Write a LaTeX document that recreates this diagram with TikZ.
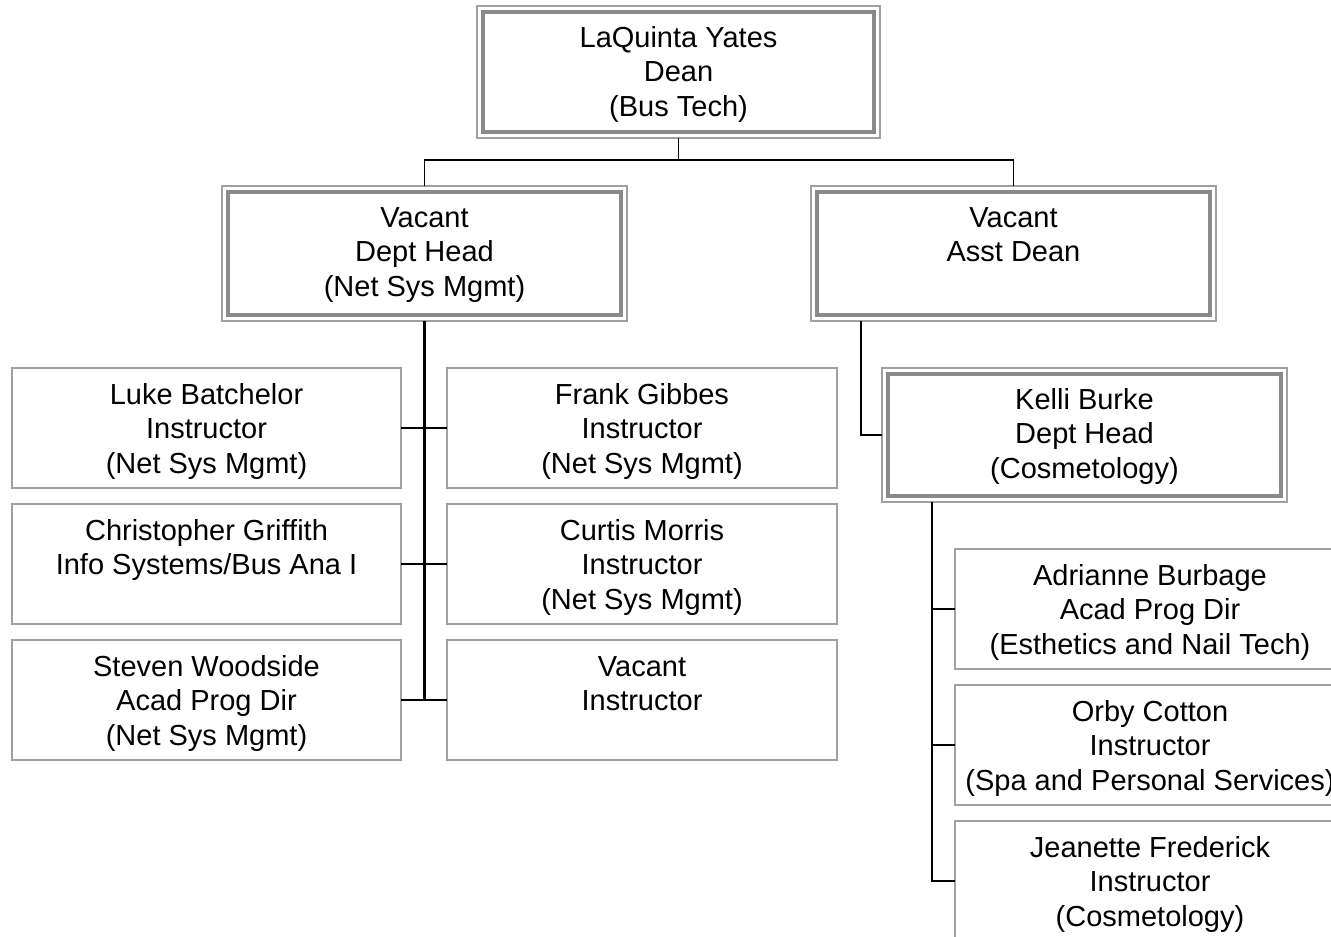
\documentclass[tikz,border=0pt]{standalone}
\usepackage{fontspec}
\setmainfont{Liberation Sans}
\usetikzlibrary{calc}
\definecolor{lineg}{HTML}{A0A0A0}
\definecolor{thickg}{HTML}{8A8A8A}
\tikzset{
  leafbox/.style={draw=lineg, line width=1.3pt, rectangle, inner sep=0pt, outer sep=0pt,
    minimum width=389pt, minimum height=120pt, anchor=north west},
  headbox/.style={draw=lineg, line width=1.6pt, rectangle, inner sep=0pt, outer sep=0pt,
    minimum width=405pt, minimum height=135pt, anchor=north west},
  innerline/.style={draw=thickg, line width=4.2pt},
  txt/.style={align=center, inner sep=0pt, anchor=north, font=\fontsize{29}{34.5}\selectfont},
  conn/.style={draw=black, line width=1.5pt},
  trunk/.style={draw=black, line width=2.4pt},
}
\begin{document}
\begin{tikzpicture}[x=1pt, y=-1pt]
\clip (0,0) rectangle (1331,937);
\fill[white] (0,0) rectangle (1331,937);

% head boxes
\node[headbox, minimum width=403pt, minimum height=132pt] (dean) at (477,6) {};
\node[headbox] (dh) at (222,186) {};
\node[headbox] (ad) at (811,186) {};
\node[headbox, minimum height=134pt] (kb) at (882,368) {};
\foreach \b in {dean,dh,ad,kb}{
  \draw[innerline] ([shift={(6.3,6.3)}]\b.north west) rectangle ([shift={(-6.3,-6.3)}]\b.south east);
}
\node[txt] (dean-t) at ($(dean.north)+(0,16.8)$) {\strut LaQuinta Yates\\Dean\\(Bus Tech)};
\node[txt] (dh-t) at ($(dh.north)+(0,16.8)$) {\strut Vacant\\Dept Head\\(Net Sys Mgmt)};
\node[txt] (ad-t) at ($(ad.north)+(0,16.8)$) {\strut Vacant\\Asst Dean};
\node[txt] (kb-t) at ($(kb.north)+(0,16.8)$) {\strut Kelli Burke\\Dept Head\\(Cosmetology)};

% leaf boxes left column
\node[leafbox] (lb) at (12,368) {};
\node[leafbox] (cg) at (12,504) {};
\node[leafbox] (sw) at (12,640) {};
% right column
\node[leafbox, minimum width=390pt] (fg) at (447,368) {};
\node[leafbox, minimum width=390pt] (cm) at (447,504) {};
\node[leafbox, minimum width=390pt] (vi) at (447,640) {};
% cosmetology
\node[leafbox, minimum width=390pt] (ab) at (955,549) {};
\node[leafbox, minimum width=390pt] (oc) at (955,685) {};
\node[leafbox, minimum width=390pt] (jf) at (955,821) {};

\node[txt] (lb-t) at ($(lb.north)+(0,11.9)$) {\strut Luke Batchelor\\Instructor\\(Net Sys Mgmt)};
\node[txt] (cg-t) at ($(cg.north)+(0,11.9)$) {\strut Christopher Griffith\\Info Systems/Bus Ana I};
\node[txt] (sw-t) at ($(sw.north)+(0,11.9)$) {\strut Steven Woodside\\Acad Prog Dir\\(Net Sys Mgmt)};
\node[txt] (fg-t) at ($(fg.north)+(0,11.9)$) {\strut Frank Gibbes\\Instructor\\(Net Sys Mgmt)};
\node[txt] (cm-t) at ($(cm.north)+(0,11.9)$) {\strut Curtis Morris\\Instructor\\(Net Sys Mgmt)};
\node[txt] (vi-t) at ($(vi.north)+(0,11.9)$) {\strut Vacant\\Instructor};
\node[txt] (ab-t) at ($(ab.north)+(0,11.9)$) {\strut Adrianne Burbage\\Acad Prog Dir\\(Esthetics and Nail Tech)};
\node[txt] (oc-t) at ($(oc.north)+(0,11.9)$) {\strut Orby Cotton\\Instructor\\(Spa and Personal Services)};
\node[txt] (jf-t) at ($(jf.north)+(0,11.9)$) {\strut Jeanette Frederick\\Instructor\\(Cosmetology)};

% connectors
\draw[conn] (dean.south) -- ++(0,22) -| (dh.north);
\draw[conn] (dean.south) ++(0,22) -| (ad.north);
\draw[trunk] (dh.south) -- (dh.south |- sw.east);
\draw[conn] (lb.east) -- (fg.west);
\draw[conn] (cg.east) -- (cm.west);
\draw[conn] (sw.east) -- (vi.west);
\draw[conn] ([xshift=50pt]ad.south west) |- (kb.west);
\draw[conn] ([xshift=50pt]kb.south west) |- (jf.west);
\draw[conn] (ab.west) -- ++(-23,0);
\draw[conn] (oc.west) -- ++(-23,0);
\end{tikzpicture}
\end{document}
